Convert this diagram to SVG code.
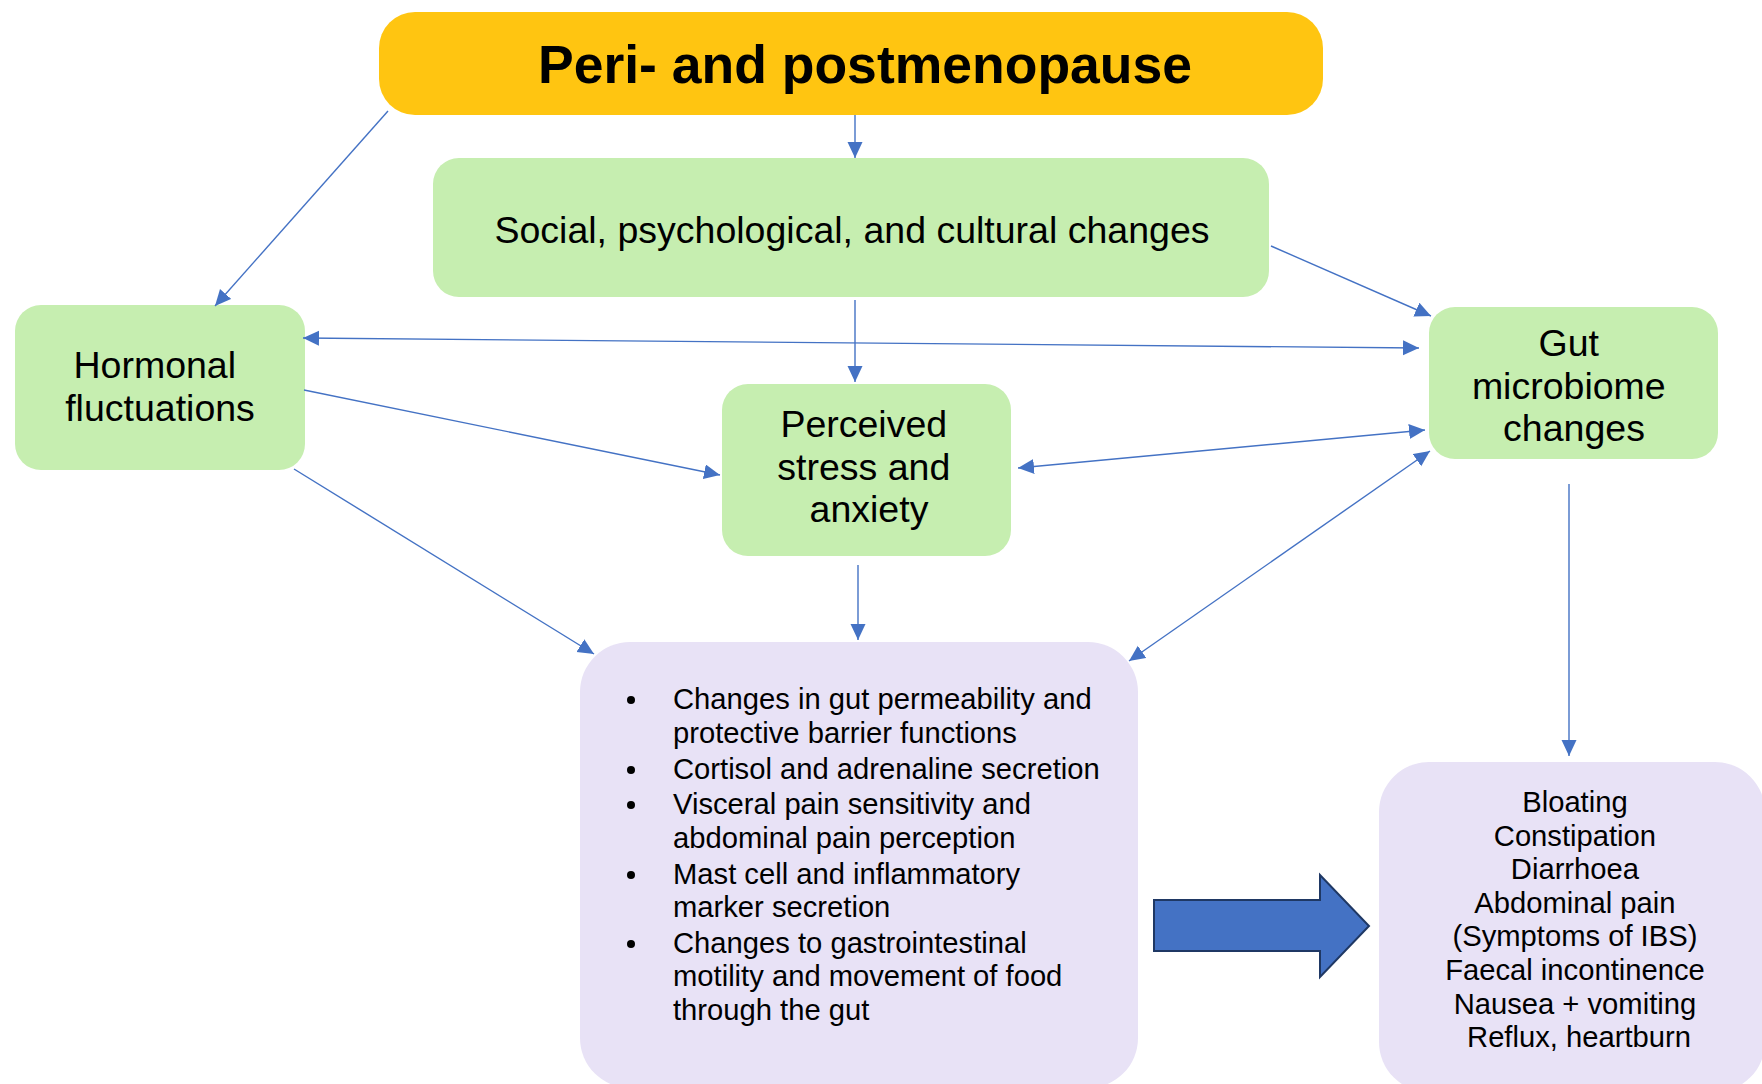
<svg xmlns="http://www.w3.org/2000/svg" width="1762" height="1084" viewBox="0 0 1762 1084">
  <style>
    .txt { font-family: "Liberation Sans", Arial, sans-serif; fill: #000; }
    .green { fill: #C6EEB0; }
    .purple { fill: #E8E2F6; }
    .conn { stroke: #4472C4; stroke-width: 1.4; fill: none; }
  </style>
  <defs>
    <marker id="ah" markerUnits="userSpaceOnUse" markerWidth="17" markerHeight="16" refX="16" refY="7.5" orient="auto-start-reverse">
      <path d="M0,0 L16,7.5 L0,15 z" fill="#4472C4"/>
    </marker>
  </defs>
  <rect width="1762" height="1084" fill="#FFFFFF"/>

  <g id="node-peri">
    <rect x="379" y="12" width="944" height="103" rx="36" ry="36" fill="#FFC511"/>
    <text class="txt" x="865" y="83" font-size="53.5" font-weight="bold" text-anchor="middle">Peri- and postmenopause</text>
  </g>

  <g id="node-social">
    <rect class="green" x="433" y="158" width="836" height="139" rx="26" ry="26"/>
    <text class="txt" x="852" y="243" font-size="37.5" text-anchor="middle">Social, psychological, and cultural changes</text>
  </g>

  <g id="node-hormonal">
    <rect class="green" x="15" y="305" width="290" height="165" rx="26" ry="26"/>
    <text class="txt" font-size="37.5" text-anchor="middle">
      <tspan x="160" y="378">Hormonal</tspan>
      <tspan x="160" y="421">fluctuations</tspan>
    </text>
  </g>

  <g id="node-stress">
    <rect class="green" x="722" y="384" width="289" height="172" rx="26" ry="26"/>
    <text class="txt" font-size="37.5" text-anchor="middle">
      <tspan x="869" y="437">Perceived</tspan>
      <tspan x="869" y="480">stress and</tspan>
      <tspan x="869" y="522">anxiety</tspan>
    </text>
  </g>

  <g id="node-gut">
    <rect class="green" x="1429" y="307" width="289" height="152" rx="26" ry="26"/>
    <text class="txt" font-size="37.5" text-anchor="middle">
      <tspan x="1574" y="356">Gut</tspan>
      <tspan x="1574" y="399">microbiome</tspan>
      <tspan x="1574" y="441">changes</tspan>
    </text>
  </g>

  <g id="node-mechanisms">
    <rect class="purple" x="580" y="642" width="558" height="446" rx="50" ry="50"/>
    <g fill="#000">
      <circle cx="631" cy="700" r="4"/>
      <circle cx="631" cy="770" r="4"/>
      <circle cx="631" cy="805" r="4"/>
      <circle cx="631" cy="875" r="4"/>
      <circle cx="631" cy="944" r="4"/>
    </g>
    <text class="txt" font-size="29.2">
      <tspan x="673" y="709">Changes in gut permeability and</tspan>
      <tspan x="673" y="743">protective barrier functions</tspan>
      <tspan x="673" y="779">Cortisol and adrenaline secretion</tspan>
      <tspan x="673" y="814">Visceral pain sensitivity and</tspan>
      <tspan x="673" y="848">abdominal pain perception</tspan>
      <tspan x="673" y="884">Mast cell and inflammatory</tspan>
      <tspan x="673" y="917">marker secretion</tspan>
      <tspan x="673" y="953">Changes to gastrointestinal</tspan>
      <tspan x="673" y="986">motility and movement of food</tspan>
      <tspan x="673" y="1020">through the gut</tspan>
    </text>
  </g>

  <g id="node-symptoms">
    <rect class="purple" x="1379" y="762" width="386" height="330" rx="50" ry="50"/>
    <text class="txt" font-size="29.2" text-anchor="middle">
      <tspan x="1579" y="812">Bloating</tspan>
      <tspan x="1579" y="846">Constipation</tspan>
      <tspan x="1579" y="879">Diarrhoea</tspan>
      <tspan x="1579" y="913">Abdominal pain</tspan>
      <tspan x="1579" y="946">(Symptoms of IBS)</tspan>
      <tspan x="1579" y="980">Faecal incontinence</tspan>
      <tspan x="1579" y="1014">Nausea + vomiting</tspan>
      <tspan x="1579" y="1047">Reflux, heartburn</tspan>
    </text>
  </g>

  <g id="connectors">
    <line class="conn" x1="388" y1="111" x2="215" y2="306" marker-end="url(#ah)"/>
    <line class="conn" x1="855" y1="115" x2="855" y2="158" marker-end="url(#ah)"/>
    <line class="conn" x1="855" y1="300" x2="855" y2="382" marker-end="url(#ah)"/>
    <line class="conn" x1="303" y1="338" x2="1419" y2="348" marker-start="url(#ah)" marker-end="url(#ah)"/>
    <line class="conn" x1="1271" y1="246" x2="1431" y2="316" marker-end="url(#ah)"/>
    <line class="conn" x1="304" y1="390" x2="720" y2="475" marker-end="url(#ah)"/>
    <line class="conn" x1="1018" y1="468" x2="1425" y2="430" marker-start="url(#ah)" marker-end="url(#ah)"/>
    <line class="conn" x1="294" y1="469" x2="594" y2="654" marker-end="url(#ah)"/>
    <line class="conn" x1="858" y1="565" x2="858" y2="640" marker-end="url(#ah)"/>
    <line class="conn" x1="1129" y1="661" x2="1430" y2="451" marker-start="url(#ah)" marker-end="url(#ah)"/>
    <line class="conn" x1="1569" y1="484" x2="1569" y2="756" marker-end="url(#ah)"/>
    <path id="big-arrow" d="M1154,900 L1320,900 L1320,875 L1369,926 L1320,977 L1320,951 L1154,951 Z" fill="#4472C4" stroke="#1F3864" stroke-width="2"/>
  </g>
</svg>
